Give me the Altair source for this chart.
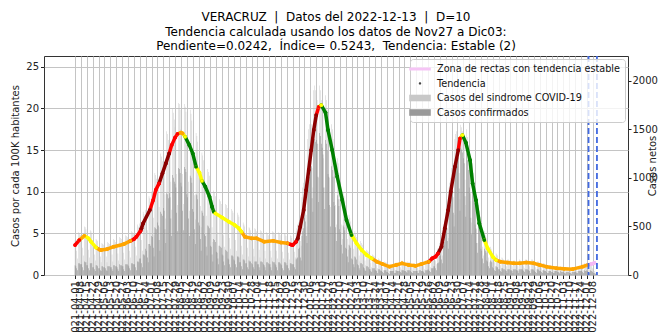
import altair as alt
import pandas as pd

INICIO = "2021-04-01"

# Casos netos diarios (síndrome COVID-19), una fila por semana (jueves a miércoles)
sindrome_semanas = [
    [360, 340, 250, 170, 440, 430, 410], [410, 400, 280, 200, 500, 490, 470],
    [380, 360, 260, 180, 460, 450, 430], [310, 290, 210, 150, 370, 360, 350],
    [270, 260, 190, 130, 330, 320, 310], [280, 270, 190, 130, 340, 330, 320],
    [300, 290, 210, 140, 370, 360, 340], [320, 300, 220, 150, 390, 380, 370],
    [340, 320, 230, 160, 410, 400, 390], [370, 350, 250, 180, 450, 440, 420],
    [420, 400, 290, 200, 520, 500, 480], [530, 510, 360, 250, 650, 630, 610],
    [670, 630, 460, 320, 810, 790, 760], [860, 820, 590, 410, 1050, 1030, 990],
    [1030, 980, 700, 490, 1250, 1220, 1170], [1210, 1160, 830, 580, 1480, 1450, 1390],
    [1400, 1340, 960, 670, 1710, 1670, 1600], [1520, 1450, 1040, 720, 1770, 1760, 1700],
    [1500, 1440, 1040, 730, 1760, 1730, 1680], [1390, 1330, 960, 660, 1700, 1660, 1590],
    [1200, 1140, 820, 570, 1460, 1430, 1370], [1040, 990, 710, 490, 1260, 1230, 1180],
    [890, 850, 610, 420, 1090, 1060, 1020], [710, 680, 490, 340, 870, 850, 810],
    [640, 610, 440, 300, 780, 760, 730], [600, 570, 410, 290, 730, 720, 690],
    [560, 530, 380, 270, 680, 660, 640], [520, 500, 360, 250, 640, 620, 600],
    [440, 420, 300, 210, 540, 520, 500], [410, 390, 280, 190, 490, 480, 460],
    [400, 380, 270, 190, 480, 470, 450], [380, 360, 260, 180, 460, 450, 430],
    [360, 340, 250, 170, 440, 430, 410], [370, 350, 250, 180, 450, 440, 420],
    [360, 340, 250, 170, 440, 430, 410], [350, 330, 240, 170, 430, 420, 400],
    [330, 320, 230, 160, 410, 400, 380], [300, 310, 240, 180, 450, 480, 520],
    [540, 560, 350, 300, 800, 900, 950], [900, 850, 620, 500, 1400, 1500, 1550],
    [1600, 1550, 1100, 900, 1900, 1950, 1900], [1850, 1800, 1350, 1000, 1950, 1900, 1800],
    [1750, 1650, 1200, 900, 1850, 1800, 1700], [1450, 1400, 1000, 700, 1550, 1500, 1400],
    [1100, 1050, 720, 520, 1200, 1150, 1050], [780, 740, 520, 370, 850, 810, 760],
    [560, 530, 370, 260, 620, 590, 550], [400, 380, 270, 190, 450, 420, 390],
    [300, 290, 200, 140, 350, 330, 310], [220, 210, 150, 100, 260, 250, 240],
    [180, 170, 120, 80, 210, 200, 190], [140, 130, 100, 70, 170, 160, 150],
    [110, 110, 80, 50, 140, 130, 130], [90, 80, 60, 40, 110, 110, 100],
    [100, 100, 70, 50, 130, 120, 120], [120, 120, 80, 60, 150, 140, 140],
    [110, 110, 80, 50, 140, 130, 130], [100, 90, 70, 50, 120, 120, 110],
    [110, 100, 70, 50, 130, 130, 120], [120, 120, 90, 60, 150, 150, 140],
    [160, 150, 110, 80, 200, 190, 190], [210, 200, 150, 110, 270, 270, 280],
    [330, 340, 260, 200, 480, 520, 560], [650, 660, 480, 380, 900, 950, 1000],
    [1100, 1080, 800, 620, 1400, 1450, 1480], [1480, 1420, 1050, 780, 1545, 1520, 1480],
    [1450, 1380, 980, 720, 1500, 1420, 1300], [1150, 1080, 760, 540, 1150, 1050, 950],
    [740, 680, 470, 330, 720, 660, 600], [450, 420, 290, 200, 450, 410, 380],
    [290, 270, 180, 130, 290, 270, 250], [190, 180, 130, 90, 220, 210, 200],
    [140, 140, 100, 70, 180, 170, 160], [140, 130, 90, 60, 160, 160, 150],
    [130, 120, 90, 60, 150, 150, 140], [120, 120, 90, 60, 160, 150, 140],
    [140, 130, 90, 70, 160, 160, 150], [130, 120, 90, 60, 160, 160, 150],
    [120, 110, 80, 60, 140, 140, 130], [100, 90, 70, 50, 120, 120, 110],
    [90, 80, 60, 40, 100, 100, 100], [80, 70, 50, 40, 90, 90, 90],
    [70, 70, 50, 30, 90, 80, 80], [70, 60, 40, 30, 80, 80, 70],
    [60, 60, 40, 30, 80, 80, 70], [80, 70, 50, 40, 90, 90, 90],
    [90, 90, 70, 50, 120, 110, 110], [120, 110, 80, 60, 130, 110, 90],
    [70, 60, 40, 20, 30, 10],
]

# Casos confirmados diarios, misma organización
confirmados_semanas = [
    [100, 90, 70, 50, 120, 120, 110], [110, 110, 80, 50, 140, 130, 130],
    [100, 100, 70, 50, 120, 120, 120], [80, 80, 60, 40, 100, 100, 90],
    [70, 70, 50, 40, 90, 90, 80], [80, 70, 50, 40, 90, 90, 90],
    [80, 80, 60, 40, 100, 100, 90], [90, 80, 60, 40, 110, 100, 100],
    [90, 90, 60, 40, 110, 110, 110], [100, 90, 70, 50, 120, 120, 110],
    [110, 110, 80, 50, 140, 140, 130], [170, 170, 120, 80, 210, 210, 200],
    [270, 250, 180, 130, 320, 320, 300], [400, 390, 280, 190, 490, 480, 470],
    [540, 510, 360, 250, 650, 630, 610], [690, 660, 470, 330, 840, 830, 790],
    [840, 800, 580, 400, 1030, 1000, 960], [940, 900, 640, 450, 1100, 1090, 1050],
    [950, 910, 660, 460, 1110, 1090, 1060], [830, 800, 580, 400, 1020, 1000, 950],
    [680, 650, 470, 320, 830, 820, 780], [540, 510, 370, 250, 660, 640, 610],
    [420, 400, 290, 200, 510, 500, 480], [300, 290, 210, 140, 370, 360, 340],
    [240, 230, 170, 110, 300, 290, 280], [210, 200, 140, 100, 260, 250, 240],
    [170, 160, 110, 80, 200, 200, 190], [160, 150, 110, 80, 190, 190, 180],
    [130, 130, 90, 60, 160, 160, 150], [120, 120, 80, 60, 150, 140, 140],
    [120, 110, 80, 60, 140, 140, 140], [110, 110, 80, 50, 140, 140, 130],
    [110, 100, 80, 50, 130, 130, 120], [110, 110, 80, 50, 140, 130, 130],
    [110, 100, 80, 50, 130, 130, 120], [110, 100, 70, 50, 130, 130, 120],
    [100, 100, 70, 50, 120, 120, 110], [110, 110, 80, 60, 160, 170, 180],
    [270, 280, 180, 150, 400, 450, 480], [590, 550, 400, 330, 910, 980, 1010],
    [1150, 1120, 790, 650, 1370, 1400, 1370], [1390, 1350, 1010, 750, 1460, 1430, 1350],
    [1310, 1240, 900, 680, 1390, 1350, 1280], [1040, 1010, 720, 500, 1120, 1080, 1010],
    [750, 710, 490, 350, 820, 780, 710], [470, 440, 310, 220, 510, 490, 460],
    [280, 270, 190, 130, 310, 300, 280], [170, 160, 110, 80, 190, 180, 160],
    [110, 100, 70, 50, 120, 120, 110], [80, 70, 50, 40, 90, 90, 80],
    [60, 60, 40, 30, 70, 70, 70], [50, 50, 40, 20, 60, 60, 50],
    [40, 40, 30, 20, 50, 50, 50], [30, 30, 20, 10, 40, 40, 40],
    [40, 40, 20, 20, 50, 40, 40], [40, 40, 30, 20, 50, 50, 50],
    [40, 40, 30, 20, 50, 50, 50], [40, 30, 20, 20, 40, 40, 40],
    [40, 40, 20, 20, 50, 50, 40], [40, 40, 30, 20, 50, 50, 50],
    [60, 50, 40, 30, 70, 70, 70], [90, 90, 70, 50, 120, 120, 130],
    [200, 200, 160, 120, 290, 310, 340], [470, 480, 350, 270, 650, 680, 720],
    [880, 860, 640, 500, 1120, 1160, 1180], [1260, 1210, 890, 660, 1310, 1290, 1260],
    [1200, 1150, 810, 600, 1250, 1180, 1080], [900, 840, 590, 420, 900, 820, 740],
    [520, 480, 330, 230, 500, 460, 420], [270, 250, 170, 120, 270, 250, 230],
    [150, 140, 90, 70, 150, 140, 130], [80, 70, 50, 40, 90, 80, 80],
    [60, 60, 40, 30, 70, 70, 60], [60, 50, 40, 20, 60, 60, 60],
    [50, 50, 40, 20, 60, 60, 60], [50, 50, 40, 20, 60, 60, 60],
    [60, 50, 40, 30, 60, 60, 60], [50, 50, 40, 20, 60, 60, 60],
    [50, 40, 30, 20, 60, 60, 50], [40, 40, 30, 20, 50, 50, 40],
    [40, 30, 20, 20, 40, 40, 40], [30, 30, 20, 20, 40, 40, 40],
    [30, 30, 20, 10, 40, 30, 30], [30, 20, 20, 10, 30, 30, 30],
    [20, 20, 20, 10, 30, 30, 30], [30, 30, 20, 20, 40, 40, 40],
    [40, 40, 30, 20, 50, 40, 40], [50, 40, 30, 20, 50, 40, 40],
    [30, 20, 20, 10, 10, 0],
]

# Tendencia (casos por cada 100K habitantes): días desde INICIO, valor y categoría
tend_dias = [
    0, 5, 11, 16, 19, 25, 29, 31, 38, 46, 58, 66, 70, 73, 78, 79, 81, 89, 93, 96,
    100, 104, 108, 112, 115, 119, 122, 126, 128, 131, 136, 140, 144, 148, 151, 155,
    160, 163, 165, 167, 175, 183, 190, 195, 198, 202, 210, 216, 225, 236, 245, 253,
    257, 259, 263, 265, 268, 272, 275, 278, 281, 284, 287, 290, 293, 298, 301, 306,
    312, 318, 323, 329, 335, 341, 347, 353, 359, 366, 374, 382, 389, 397, 405, 412,
    421, 425, 429, 432, 436, 440, 444, 447, 452, 456, 458, 461, 465, 470, 473, 477,
    481, 487, 491, 497, 501, 506, 514, 522, 529, 537, 546, 553, 561, 573, 582, 592,
    604, 610, 614, 618,
]
tend_valores = [
    3.6, 4.2, 4.7, 4.4, 4.0, 3.3, 3.05, 3.0, 3.1, 3.4, 3.7, 4.1, 4.3, 4.6, 5.3, 5.6, 6.2, 7.8, 9.0, 10.2,
    11.0, 12.2, 13.4, 14.6, 15.6, 16.5, 16.95, 17.1, 17.0, 16.6, 15.6, 14.6, 13.0, 12.3, 11.3, 10.6,
    9.4, 8.2, 7.6, 7.4, 6.9, 6.4, 6.0, 5.6, 5.2, 4.6, 4.4, 4.4, 4.0, 4.1, 3.9, 3.8,
    3.65, 3.6, 4.0, 4.4, 5.8, 7.8, 10.2, 12.6, 15.0, 17.4, 19.2, 20.2, 20.4, 19.5, 17.4, 15.0,
    11.8, 9.0, 6.6, 4.8, 3.8, 3.0, 2.4, 2.0, 1.6, 1.3, 1.0, 1.2, 1.4, 1.2, 1.1, 1.3,
    1.6, 2.0, 2.2, 2.6, 3.4, 5.6, 7.8, 10.0, 13.0, 15.0, 16.4, 16.8, 15.9, 13.8, 11.0, 9.0,
    6.2, 4.2, 3.2, 2.2, 1.8, 1.6, 1.5, 1.4, 1.4, 1.5, 1.4, 1.2, 1.0, 0.8, 0.75, 0.7,
    1.0, 1.2, 1.3, 1.45,
]
tend_categorias = list(
    "rroyyyoooooorrrdddrr"
    "rdddrrrooygggyyg"
    "gggyyyyyyooooooo"
    "rrrddddddddryggg"
    "ggggyyyyoooooooo"
    "orrrddddddrygggg"
    "ggyyyooooooooooo"
    "oopp"
)

colores_cat = {"r": "#ff0000", "d": "#8b0000", "o": "#ffa500", "y": "#ffff00",
               "g": "#008000", "p": "#f5b8f5"}

ventana = ["2022-12-03", "2022-12-13"]
x_dominio = ["2021-03-01", "2023-01-13"]
y_izq_dominio = [0, 26.3]
y_der_dominio = [0, 2253]
y_izq_ticks = [0, 5, 10, 15, 20, 25]
y_der_ticks = [0, 500, 1000, 1500, 2000]
etiquetas_x = pd.date_range("2021-04-01", "2022-12-08", freq="7D")

ley_etiquetas = ["Zona de rectas con tendencia estable", "Tendencia",
                 "Casos del sindrome COVID-19", "Casos confirmados"]
ley_colores = ["#f5c4f5", "#444444", "#c8c8c8", "#9a9a9a"]
ley_formas = ["M-1.8,-0.25H1.8V0.25H-1.8Z",
              "M-0.2,0A0.2,0.2 0 1,0 0.2,0A0.2,0.2 0 1,0 -0.2,0Z",
              "M-1.8,-0.55H1.8V0.55H-1.8Z",
              "M-1.8,-0.55H1.8V0.55H-1.8Z"]

NB = "\u00a0"
titulo = [f"VERACRUZ {NB}|{NB} Datos del 2022-12-13 {NB}|{NB} D=10",
          "Tendencia calculada usando los datos de Nov27 a Dic03:",
          f"Pendiente=0.0242,{NB} Índice= 0.5243,{NB} Tendencia: Estable (2)"]

FUENTE = "DejaVu Sans"


def ms(s):
    return int(pd.Timestamp(s, tz="UTC").timestamp() * 1000)


# ---------- tablas ----------
sind = [v for w in sindrome_semanas for v in w]
conf = [v for w in confirmados_semanas for v in w]
fechas = pd.date_range(INICIO, periods=len(sind), freq="D").strftime("%Y-%m-%d")
df_bar = pd.DataFrame({"fecha": fechas, "sindrome": sind, "confirmados": conf})

base = pd.Timestamp(INICIO)
t_fechas = [(base + pd.Timedelta(days=d)).strftime("%Y-%m-%d") for d in tend_dias]
t_hex = [colores_cat[c] for c in tend_categorias]
df_pts = pd.DataFrame({"fecha": t_fechas, "valor": tend_valores, "hex": t_hex})
filas = []
for i in range(len(t_fechas) - 1):
    c = t_hex[i + 1]
    filas.append({"seg": i, "fecha": t_fechas[i], "valor": tend_valores[i], "hex": c})
    filas.append({"seg": i, "fecha": t_fechas[i + 1], "valor": tend_valores[i + 1], "hex": c})
df_seg = pd.DataFrame(filas)

df_vent = pd.DataFrame({"fecha": ventana})
df_ley = pd.DataFrame({"entrada": ley_etiquetas, "fecha": ["2022-01-01"] * 4})

# ---------- escalas y ejes ----------
xenc = alt.X(
    "fecha:T",
    scale=alt.Scale(type="utc", domain=[ms(x_dominio[0]), ms(x_dominio[1])], nice=False),
    axis=alt.Axis(values=[ms(d) for d in etiquetas_x], format="%Y-%m-%d", labelAngle=270,
                  labelOverlap=False, labelFontSize=10, labelPadding=2, tickSize=3.5,
                  tickColor="#222", labelColor="#222", grid=True, gridColor="#c4c4c4",
                  gridWidth=1, domain=False, title=None, labelFont=FUENTE),
)
esc_izq = alt.Scale(domain=y_izq_dominio, nice=False, zero=True)
esc_der = alt.Scale(domain=y_der_dominio, nice=False, zero=True)
eje_izq = alt.Axis(orient="left", values=y_izq_ticks, title="Casos por cada 100K habitantes",
                   grid=True, gridColor="#c4c4c4", gridWidth=1, tickSize=3.5, tickColor="#222",
                   labelColor="#222", labelFontSize=10, titleFontSize=10,
                   titleFontWeight="normal", titleColor="#222", domain=False, titlePadding=5,
                   labelFont=FUENTE, titleFont=FUENTE)
eje_der = alt.Axis(orient="right", values=y_der_ticks, format="d", title="Casos netos",
                   grid=False, tickSize=3, tickColor="#222", labelColor="#222",
                   labelFontSize=10, labelPadding=1, titleFontSize=10,
                   titleFontWeight="normal", titleColor="#222", domain=False, titleAngle=270,
                   titlePadding=0, labelFont=FUENTE, titleFont=FUENTE)

# ---------- capas ----------
claras = alt.Chart(df_bar).mark_bar(width=0.4, color="#c0c0c0").encode(
    x=xenc, y=alt.Y("sindrome:Q", scale=esc_der, axis=eje_der))
oscuras = alt.Chart(df_bar).mark_bar(width=0.5, color="#8c8c8c").encode(
    x=xenc, y=alt.Y("confirmados:Q", scale=esc_der, axis=eje_der))
barras = alt.layer(claras, oscuras)

linea = alt.Chart(df_seg).mark_line(strokeWidth=3.5, strokeCap="round").encode(
    x=xenc, y=alt.Y("valor:Q", scale=esc_izq, axis=eje_izq),
    color=alt.Color("hex:N", scale=None), detail="seg:N")
puntos = alt.Chart(df_pts).mark_circle(size=14, opacity=1).encode(
    x=xenc, y=alt.Y("valor:Q", scale=esc_izq, axis=eje_izq),
    color=alt.Color("hex:N", scale=None))
tendencia = alt.layer(linea, puntos)

reglas = alt.Chart(df_vent).mark_rule(color="#4169e1", strokeWidth=1.8,
                                      strokeDash=[6, 3]).encode(x=xenc)

leyenda = alt.Legend(title=None, orient="top-right", offset=3, symbolSize=144,
                     fillColor="rgba(255,255,255,0.8)", strokeColor="#cccccc", padding=4,
                     cornerRadius=3, labelFontSize=9.7, labelFont=FUENTE, labelColor="#111",
                     symbolOpacity=1, symbolStrokeWidth=0, rowPadding=3.5, labelOffset=11,
                     labelLimit=400)
capa_ley = alt.Chart(df_ley).mark_point(filled=True, size=144, clip=True).encode(
    x=xenc, y=alt.value(-3000),
    color=alt.Color("entrada:N", scale=alt.Scale(domain=ley_etiquetas, range=ley_colores),
                    legend=leyenda),
    shape=alt.Shape("entrada:N", scale=alt.Scale(domain=ley_etiquetas, range=ley_formas),
                    legend=leyenda),
)

chart = (
    alt.layer(barras, tendencia, reglas, capa_ley)
    .resolve_scale(y="independent")
    .properties(
        width=584, height=219,
        title=alt.Title(text=titulo, fontSize=12, fontWeight="normal", font=FUENTE,
                        lineHeight=14.5, offset=2, anchor="middle", color="#000"),
        padding={"left": 36, "top": 48, "right": 33, "bottom": 59},
        autosize=alt.AutoSizeParams(type="none"),
    )
    .configure(font=FUENTE)
    .configure_view(stroke="#333333", strokeWidth=1)
)

chart.save("out.html", embed_options={"renderer": "svg", "actions": False})
